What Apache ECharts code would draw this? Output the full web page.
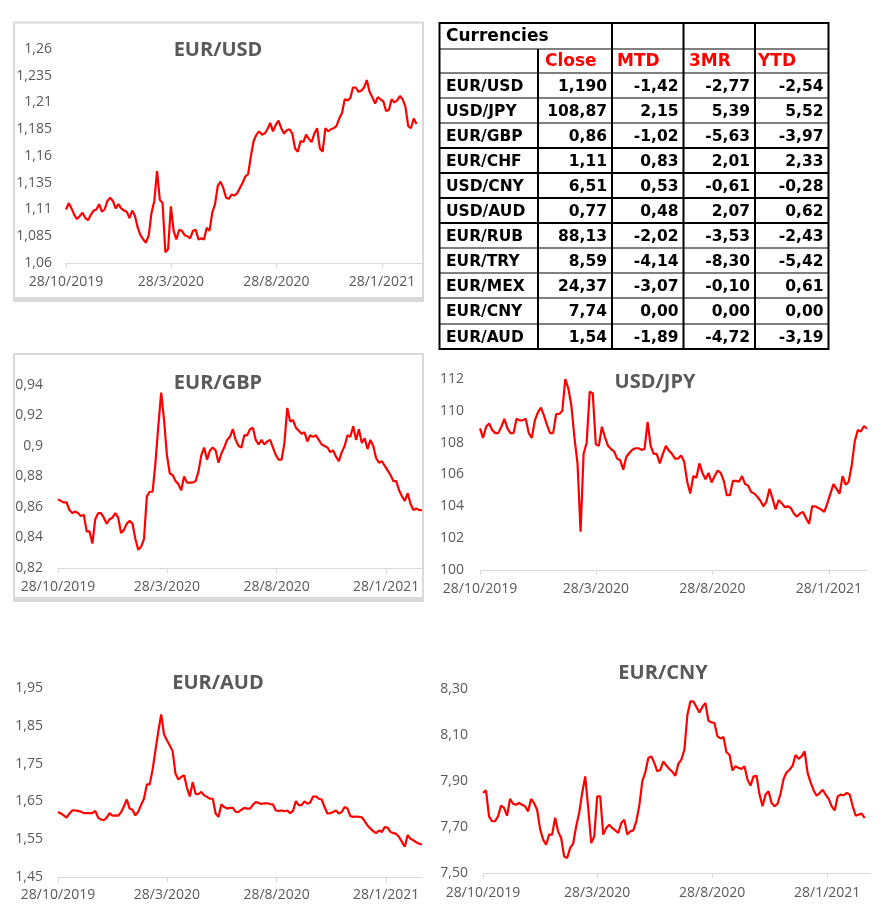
<!DOCTYPE html>
<html><head><meta charset="utf-8">
<script src="https://cdn.jsdelivr.net/npm/echarts@6/dist/echarts.min.js"></script>
<style>html,body{margin:0;padding:0;background:#fff}#c{width:888px;height:914px}</style>
</head><body><div id="c"></div>
<script>
// day offsets from 28/10/2019
const days = [0,4,8,12,16,20,24,28,32,36,40,44,48,52,56,60,64,68,72,76,80,84,88,92,96,100,104,108,112,116,120,124,128,132,136,140,144,148,152,156,160,164,168,172,176,180,184,188,192,196,200,204,208,212,216,220,224,228,232,236,240,244,248,252,256,260,264,268,272,276,280,284,288,292,296,300,304,308,312,316,320,324,328,332,336,340,344,348,352,356,360,364,368,372,376,380,384,388,392,396,400,404,408,412,416,420,424,428,432,436,440,444,448,452,456,460,464,468,472,476,480,484,488,492,496,500,504,508];
const xTickDays = [0,152,305,458];
const xTickLabels = ['28/10/2019','28/3/2020','28/8/2020','28/1/2021'];

const eurusd = [
1.110,1.116,1.111,1.105,1.101,1.104,1.107,1.102,1.100,1.105,
1.109,1.110,1.115,1.108,1.110,1.118,1.121,1.118,1.111,1.115,
1.111,1.109,1.108,1.102,1.109,1.104,1.093,1.086,1.082,1.079,
1.086,1.107,1.118,1.146,1.119,1.116,1.070,1.073,1.113,1.090,
1.082,1.091,1.090,1.086,1.085,1.083,1.090,1.091,1.082,1.083,
1.082,1.093,1.090,1.107,1.115,1.132,1.136,1.130,1.121,1.120,
1.124,1.123,1.125,1.130,1.135,1.141,1.143,1.160,1.174,1.180,
1.183,1.180,1.181,1.185,1.191,1.183,1.189,1.193,1.186,1.181,
1.184,1.185,1.181,1.167,1.164,1.174,1.173,1.180,1.176,1.173,
1.181,1.186,1.167,1.164,1.186,1.183,1.185,1.186,1.188,1.195,
1.200,1.213,1.212,1.214,1.224,1.224,1.220,1.221,1.224,1.231,
1.220,1.215,1.209,1.215,1.213,1.211,1.202,1.203,1.213,1.210,
1.212,1.216,1.213,1.206,1.188,1.186,1.195,1.190];
const eurgbp = [
0.865,0.864,0.863,0.863,0.858,0.856,0.857,0.856,0.854,0.855,
0.844,0.844,0.836,0.852,0.856,0.856,0.853,0.849,0.852,0.853,
0.856,0.853,0.843,0.845,0.849,0.851,0.849,0.839,0.832,0.834,
0.839,0.867,0.870,0.870,0.889,0.913,0.935,0.917,0.894,0.882,
0.881,0.877,0.875,0.871,0.880,0.876,0.876,0.876,0.877,0.883,
0.894,0.899,0.891,0.897,0.899,0.897,0.889,0.895,0.899,0.904,
0.906,0.911,0.904,0.900,0.899,0.907,0.907,0.911,0.912,0.904,
0.901,0.904,0.901,0.903,0.904,0.899,0.894,0.891,0.891,0.902,
0.925,0.916,0.917,0.912,0.910,0.908,0.909,0.903,0.907,0.906,
0.907,0.904,0.901,0.900,0.899,0.896,0.897,0.893,0.890,0.896,
0.900,0.907,0.906,0.913,0.904,0.911,0.902,0.905,0.898,0.904,
0.900,0.892,0.889,0.890,0.887,0.884,0.881,0.877,0.877,0.871,
0.867,0.864,0.869,0.862,0.858,0.859,0.858,0.858];
const usdjpy = [
108.9,108.3,109.0,109.2,108.8,108.6,108.6,109.0,109.5,108.9,
108.6,108.6,109.5,109.4,109.4,109.5,108.6,108.3,109.4,109.9,
110.2,109.7,109.1,108.6,108.6,109.8,109.8,110.0,112.0,111.4,
110.3,108.3,106.7,102.4,107.3,108.0,111.2,111.1,107.9,107.8,
109.0,108.35,107.8,107.6,107.45,107.0,106.9,106.3,107.1,107.35,
107.55,107.65,107.65,107.55,107.6,109.3,107.8,107.3,107.3,106.7,
107.3,107.8,107.5,107.3,107.0,107.0,107.2,106.8,105.55,104.8,
105.9,105.8,106.7,106.1,105.7,106.1,105.5,105.9,106.25,106.1,
105.6,104.7,104.7,105.6,105.6,105.55,105.9,105.4,105.3,104.9,
104.8,104.6,104.35,104.0,104.3,105.1,104.5,103.8,104.4,104.2,
103.95,104.0,103.9,103.55,103.35,103.55,103.65,103.25,102.9,104.0,
104.0,103.9,103.8,103.65,104.2,104.8,105.4,105.1,104.8,105.9,
105.35,105.55,106.6,108.1,108.8,108.7,109.05,108.87];
const euraud = [
1.622,1.618,1.613,1.607,1.618,1.626,1.626,1.625,1.623,1.619,
1.619,1.619,1.619,1.625,1.607,1.602,1.600,1.607,1.619,1.612,
1.613,1.612,1.621,1.637,1.655,1.631,1.628,1.613,1.623,1.641,
1.657,1.695,1.695,1.734,1.785,1.835,1.880,1.827,1.812,1.798,
1.783,1.723,1.708,1.715,1.719,1.686,1.663,1.701,1.670,1.669,
1.675,1.666,1.662,1.657,1.657,1.618,1.609,1.642,1.635,1.631,
1.633,1.633,1.622,1.622,1.628,1.633,1.631,1.631,1.641,1.648,
1.646,1.643,1.645,1.645,1.643,1.642,1.626,1.625,1.626,1.624,
1.626,1.619,1.625,1.651,1.640,1.640,1.650,1.644,1.647,1.663,
1.663,1.657,1.655,1.635,1.618,1.619,1.622,1.626,1.618,1.622,
1.635,1.631,1.611,1.609,1.610,1.609,1.608,1.598,1.586,1.578,
1.571,1.566,1.573,1.569,1.582,1.581,1.569,1.566,1.564,1.556,
1.543,1.530,1.561,1.551,1.547,1.542,1.538,1.536];
const eurcny = [
7.848,7.859,7.746,7.725,7.725,7.746,7.793,7.783,7.749,7.822,
7.801,7.797,7.804,7.797,7.790,7.768,7.822,7.804,7.775,7.691,
7.645,7.623,7.667,7.667,7.740,7.680,7.652,7.572,7.565,7.609,
7.628,7.703,7.761,7.848,7.920,7.783,7.630,7.659,7.833,7.833,
7.667,7.696,7.710,7.696,7.685,7.674,7.717,7.732,7.667,7.681,
7.685,7.725,7.793,7.898,7.938,8.000,8.007,7.978,7.942,7.949,
7.985,7.967,7.952,7.940,7.923,7.975,7.993,8.036,8.188,8.246,
8.246,8.222,8.198,8.222,8.239,8.162,8.155,8.152,8.094,8.085,
8.091,8.025,8.014,7.946,7.964,7.957,7.952,7.964,7.906,7.880,
7.920,7.923,7.841,7.790,7.841,7.855,7.804,7.790,7.801,7.845,
7.909,7.938,7.949,7.967,8.013,7.996,8.007,8.029,7.935,7.894,
7.859,7.836,7.848,7.862,7.841,7.822,7.790,7.772,7.833,7.841,
7.838,7.848,7.841,7.790,7.749,7.754,7.758,7.739];

const eurusdYTicks = [1.06,1.085,1.11,1.135,1.16,1.185,1.21,1.235,1.26];
const eurusdYLabels = ['1,06','1,085','1,11','1,135','1,16','1,185','1,21','1,235','1,26'];
const eurgbpYTicks = [0.82,0.84,0.86,0.88,0.9,0.92,0.94];
const eurgbpYLabels = ['0,82','0,84','0,86','0,88','0,9','0,92','0,94'];
const usdjpyYTicks = [100,102,104,106,108,110,112];
const usdjpyYLabels = ['100','102','104','106','108','110','112'];
const euraudYTicks = [1.45,1.55,1.65,1.75,1.85,1.95];
const euraudYLabels = ['1,45','1,55','1,65','1,75','1,85','1,95'];
const eurcnyYTicks = [7.5,7.7,7.9,8.1,8.3];
const eurcnyYLabels = ['7,50','7,70','7,90','8,10','8,30'];

// table
const tableTitle = 'Currencies';
const tableHeaders = ['Close','MTD','3MR','YTD'];
const tablePairs = ['EUR/USD','USD/JPY','EUR/GBP','EUR/CHF','USD/CNY','USD/AUD','EUR/RUB','EUR/TRY','EUR/MEX','EUR/CNY','EUR/AUD'];
const tableClose = ['1,190','108,87','0,86','1,11','6,51','0,77','88,13','8,59','24,37','7,74','1,54'];
const tableMTD = ['-1,42','2,15','-1,02','0,83','0,53','0,48','-2,02','-4,14','-3,07','0,00','-1,89'];
const table3MR = ['-2,77','5,39','-5,63','2,01','-0,61','2,07','-3,53','-8,30','-0,10','0,00','-4,72'];
const tableYTD = ['-2,54','5,52','-3,97','2,33','-0,28','0,62','-2,43','-5,42','0,61','0,00','-3,19'];

const panels = [
  {name:'EUR/USD', values:eurusd, yt:eurusdYTicks, yl:eurusdYLabels, grid:{left:66,top:49,width:356,height:214}, xMax:516, lm:14, xm:12, tp:[218,50]},
  {name:'EUR/GBP', values:eurgbp, yt:eurgbpYTicks, yl:eurgbpYLabels, grid:{left:58,top:385,width:364,height:183}, xMax:508, lm:15, xm:12, tp:[218,383]},
  {name:'USD/JPY', values:usdjpy, yt:usdjpyYTicks, yl:usdjpyYLabels, grid:{left:480,top:379,width:387,height:191}, xMax:508, lm:16, xm:12, tp:[655,382]},
  {name:'EUR/AUD', values:euraud, yt:euraudYTicks, yl:euraudYLabels, grid:{left:58,top:688,width:364,height:189}, xMax:508, lm:15, xm:11, tp:[218,683]},
  {name:'EUR/CNY', values:eurcny, yt:eurcnyYTicks, yl:eurcnyYLabels, grid:{left:483,top:689,width:387,height:184}, xMax:515, lm:15, xm:13, tp:[663,673]}
];

const gray = '#595959', axisGray = '#d9d9d9';
const labelFont = {color:gray, fontSize:14, fontFamily:'"Open Sans", sans-serif'};

const grids = [], xAxes = [], yAxes = [], series = [], graphics = [];

// chart frames
graphics.push({type:'rect', z:0, shape:{x:14,y:22.5,width:409,height:276}, style:{fill:'none', stroke:axisGray, lineWidth:2}});
graphics.push({type:'rect', z:0, shape:{x:13,y:297,width:411,height:5}, style:{fill:axisGray}});
graphics.push({type:'rect', z:0, shape:{x:14,y:354,width:409,height:245}, style:{fill:'none', stroke:axisGray, lineWidth:2}});
graphics.push({type:'rect', z:0, shape:{x:13,y:597,width:411,height:5}, style:{fill:axisGray}});

panels.forEach((p, i) => {
  grids.push(Object.assign({containLabel:false}, p.grid));
  xAxes.push({
    type:'value', gridIndex:i, min:0, max:p.xMax,
    axisLine:{show:true, lineStyle:{color:axisGray, width:1}},
    axisTick:{show:true, customValues:xTickDays, length:5, inside:false, lineStyle:{color:axisGray}},
    axisLabel:Object.assign({customValues:xTickDays, margin:p.xm, hideOverlap:false,
      formatter:v => { const k = xTickDays.indexOf(Math.round(v)); return k >= 0 ? xTickLabels[k] : ''; }}, labelFont),
    splitLine:{show:false}
  });
  const yt = p.yt, yl = p.yl;
  yAxes.push({
    type:'value', gridIndex:i, min:yt[0], max:yt[yt.length-1],
    axisLine:{show:false}, axisTick:{show:false}, splitLine:{show:false},
    axisLabel:Object.assign({customValues:yt, margin:p.lm, hideOverlap:false,
      formatter:v => { for (let k = 0; k < yt.length; k++) if (Math.abs(v - yt[k]) < 1e-6) return yl[k]; return ''; }}, labelFont)
  });
  series.push({
    type:'line', xAxisIndex:i, yAxisIndex:i, showSymbol:false, symbol:'none', silent:true,
    lineStyle:{color:'#ff0000', width:2.2}, itemStyle:{color:'#ff0000'},
    data: days.map((d, k) => [d, p.values[k]])
  });
  graphics.push({type:'text', z:10, style:{text:p.name, x:p.tp[0], y:p.tp[1],
    font:'bold 20px "Open Sans", sans-serif', fill:gray,
    align:'center', verticalAlign:'middle', textAlign:'center', textVerticalAlign:'middle'}});
});

// table drawing
const colX = [439.5, 538, 612, 683.5, 755, 828.5];
const rowY = [23, 49, 73, 98, 123, 148, 173, 198, 223, 248, 273, 298, 324, 349];
const thick = [148, 173, 198, 223];
const line = (x1,y1,x2,y2,w) => graphics.push({type:'line', z:5, shape:{x1,y1,x2,y2}, style:{stroke:'#000', lineWidth:w}});
for (let r = 1; r < rowY.length - 1; r++) line(colX[0], rowY[r], colX[5], rowY[r], thick.includes(rowY[r]) ? 2 : 1);
line(colX[1], rowY[1], colX[1], rowY[rowY.length-1], 2);
for (let c = 2; c < 5; c++) line(colX[c], rowY[0], colX[c], rowY[rowY.length-1], 2);
graphics.push({type:'rect', z:6, shape:{x:colX[0], y:rowY[0], width:colX[5]-colX[0], height:rowY[rowY.length-1]-rowY[0]}, style:{fill:'none', stroke:'#000', lineWidth:2}});
const tFont = 'bold 15.5px "DejaVu Sans", sans-serif';
const hFont = 'bold 17px "DejaVu Sans", sans-serif';
const txt = (s, x, y, font, fill, align) => graphics.push({type:'text', z:7, style:{text:s, x, y, font, fill,
  align, verticalAlign:'middle', textAlign:align, textVerticalAlign:'middle'}});
txt(tableTitle, 446, 37, hFont, '#000', 'left');
const hx = [545, 617, 689, 758];
tableHeaders.forEach((h, k) => txt(h, hx[k], 62, hFont, '#ff0000', 'left'));
const cols = [tableClose, tableMTD, table3MR, tableYTD];
tablePairs.forEach((name, r) => {
  const cy = (rowY[r+2] + rowY[r+3]) / 2 + 1;
  txt(name, 446, cy, tFont, '#000', 'left');
  cols.forEach((col, c) => txt(col[r], colX[c+2] - 5, cy, tFont, '#000', 'right'));
});

const chart = echarts.init(document.getElementById('c'), null, {renderer:'canvas', width:888, height:914});
chart.setOption({
  backgroundColor:'#ffffff', animation:false,
  grid:grids, xAxis:xAxes, yAxis:yAxes, series:series,
  graphic:{elements:graphics}
});
</script></body></html>
